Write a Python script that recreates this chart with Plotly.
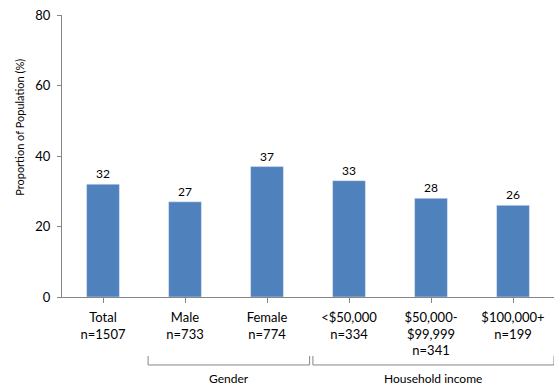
import plotly.graph_objects as go

categories = ["Total<br>n=1507", "Male<br>n=733", "Female<br>n=774",
              "<$50,000<br>n=334", "$50,000-<br>$99,999<br>n=341", "$100,000+<br>n=199"]
values = [32, 27, 37, 33, 28, 26]
group_labels = ["Gender", "Household income"]
y_ticks = [0, 20, 40, 60, 80]
y_title = "Proportion of Population (%)"

FONT = "Lato, 'Open Sans', Arial, sans-serif"
AX = "#868686"

fig = go.Figure()
fig.add_trace(go.Bar(
    x=list(range(len(categories))), y=values, width=0.4,
    marker_color="#4F81BD",
    text=[str(v) for v in values], textposition="outside",
    textfont=dict(size=12, color="#000000", family=FONT),
    cliponaxis=False,
))

fig.update_layout(
    width=560, height=391,
    margin=dict(l=62, r=6, t=15, b=94, autoexpand=False),
    paper_bgcolor="white", plot_bgcolor="white",
    showlegend=False,
    font=dict(family=FONT, size=12, color="#000000"),
    xaxis=dict(
        tickmode="array", tickvals=list(range(len(categories))), ticktext=categories,
        range=[-0.5, len(categories) - 0.5],
        showline=True, linecolor=AX, linewidth=1,
        ticks="outside", tickson="boundaries", ticklen=5, tickcolor=AX,
        showgrid=False, zeroline=False, automargin=False,
        tickfont=dict(size=13, family=FONT),
        ticklabelstandoff=3,
    ),
    yaxis=dict(
        range=[0, 80], tickvals=y_ticks,
        showline=True, linecolor=AX, linewidth=1,
        ticks="outside", ticklen=4, tickcolor=AX,
        showgrid=False, zeroline=False, automargin=False,
        tickfont=dict(size=13, family=FONT),
        ticklabelstandoff=4,
    ),
)

# y-axis title (placed like the original, above the axis centre)
fig.add_annotation(x=0, y=0.6, xref="paper", yref="paper", xshift=-42,
                   text=y_title, textangle=-90, showarrow=False,
                   font=dict(size=11, family=FONT), xanchor="center", yanchor="middle")

# brackets
y_top, y_bot = -0.209, -0.241
brackets = [(0.55, 2.52), (2.56, 5.5)]
for (x0, x1), lab in zip(brackets, group_labels):
    for xa, ya, xb, yb in [(x0, y_top, x0, y_bot), (x0, y_bot, x1, y_bot), (x1, y_bot, x1, y_top)]:
        fig.add_shape(type="line", xref="x", yref="paper", x0=xa, y0=ya, x1=xb, y1=yb,
                      line=dict(color=AX, width=1))
    fig.add_annotation(x=(x0 + x1) / 2, y=-0.29, xref="x", yref="paper", text=lab,
                       showarrow=False, font=dict(size=12, family=FONT), yanchor="middle")

fig.write_html("out.html", config={"displayModeBar": False},
               post_script="document.body.style.margin='0';document.body.style.overflow='hidden';")
